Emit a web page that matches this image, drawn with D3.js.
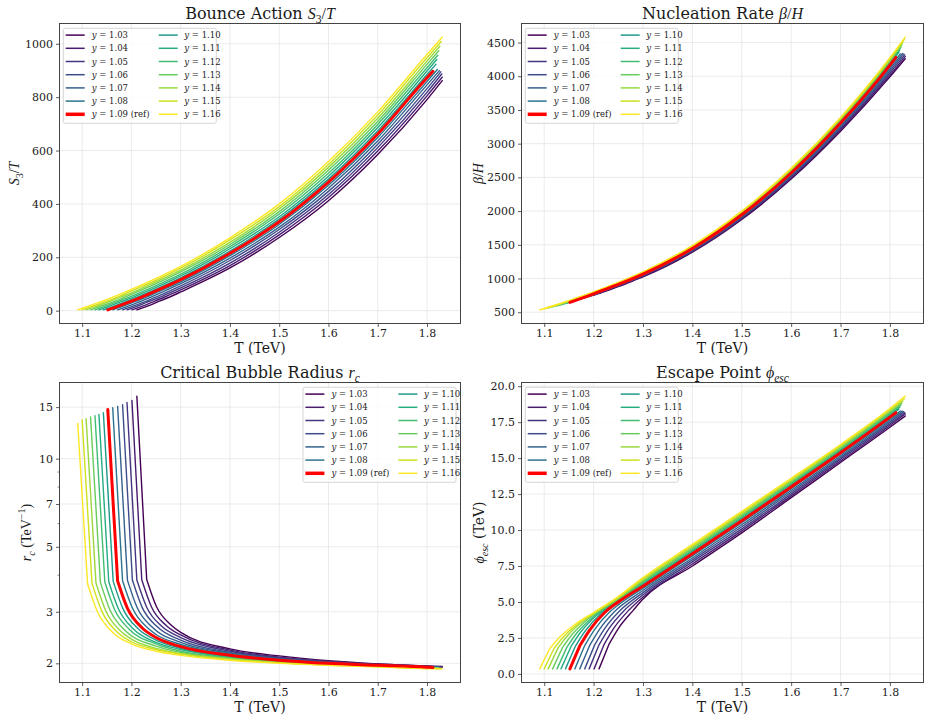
<!DOCTYPE html>
<html lang="en">
<head>
<meta charset="UTF-8">
<title>Bubble nucleation scan</title>
<script src="https://d3js.org/d3.v7.min.js"></script>
<style>
  body { margin: 0; background: #fff; }
  text { font-family: "DejaVu Serif", serif; fill: #1a1a1a; }
</style>
</head>
<body>
<script>
// y values of the scan, 1.09 is the reference curve
const yLabels = ["1.03", "1.04", "1.05", "1.06", "1.07", "1.08", "1.09",
                 "1.10", "1.11", "1.12", "1.13", "1.14", "1.15", "1.16"];
const refIndex = 6;

// temperatures (TeV) where each curve is sampled
const tSamples = [
  [1.211, 1.231, 1.251, 1.281, 1.3, 1.4, 1.5, 1.6, 1.7, 1.8, 1.831],
  [1.201, 1.221, 1.241, 1.271, 1.3, 1.4, 1.5, 1.6, 1.7, 1.8, 1.831],
  [1.191, 1.211, 1.231, 1.261, 1.3, 1.4, 1.5, 1.6, 1.7, 1.8, 1.830],
  [1.182, 1.202, 1.222, 1.252, 1.3, 1.4, 1.5, 1.6, 1.7, 1.8, 1.828],
  [1.172, 1.192, 1.212, 1.242, 1.3, 1.4, 1.5, 1.6, 1.7, 1.8, 1.825],
  [1.162, 1.182, 1.202, 1.232, 1.25, 1.3, 1.4, 1.5, 1.6, 1.7, 1.8, 1.821],
  [1.152, 1.172, 1.192, 1.222, 1.25, 1.3, 1.4, 1.5, 1.6, 1.7, 1.8, 1.812],
  [1.143, 1.163, 1.183, 1.213, 1.25, 1.3, 1.4, 1.5, 1.6, 1.7, 1.8, 1.818],
  [1.134, 1.154, 1.174, 1.204, 1.25, 1.3, 1.4, 1.5, 1.6, 1.7, 1.8, 1.820],
  [1.126, 1.146, 1.166, 1.196, 1.25, 1.3, 1.4, 1.5, 1.6, 1.7, 1.8, 1.822],
  [1.117, 1.137, 1.157, 1.187, 1.25, 1.3, 1.4, 1.5, 1.6, 1.7, 1.8, 1.824],
  [1.108, 1.128, 1.148, 1.178, 1.2, 1.25, 1.3, 1.4, 1.5, 1.6, 1.7, 1.8, 1.826],
  [1.100, 1.120, 1.140, 1.170, 1.2, 1.25, 1.3, 1.4, 1.5, 1.6, 1.7, 1.8, 1.829],
  [1.091, 1.111, 1.131, 1.161, 1.2, 1.25, 1.3, 1.4, 1.5, 1.6, 1.7, 1.8, 1.831]
];

// S3/T
const s3T = [
  [3, 16, 31, 54, 70, 160, 274, 412, 585, 791, 862],
  [3, 16, 31, 54, 78, 169, 284, 424, 598, 805, 875],
  [3, 16, 31, 53, 85, 178, 294, 435, 611, 818, 887],
  [3, 16, 30, 53, 93, 188, 304, 447, 624, 832, 895],
  [3, 16, 30, 53, 101, 197, 313, 459, 636, 846, 899],
  [3, 16, 30, 52, 67, 108, 206, 323, 470, 649, 859, 904],
  [3, 16, 30, 52, 74, 116, 215, 333, 482, 662, 873, 897],
  [3, 16, 30, 52, 81, 123, 223, 343, 493, 674, 885, 923],
  [3, 16, 30, 51, 87, 130, 232, 352, 504, 686, 898, 941],
  [3, 16, 30, 51, 94, 137, 240, 362, 515, 698, 910, 957],
  [3, 16, 29, 51, 101, 145, 248, 371, 526, 709, 923, 974],
  [3, 16, 29, 51, 67, 108, 152, 256, 381, 537, 721, 935, 991],
  [3, 16, 29, 50, 74, 114, 159, 265, 390, 548, 733, 948, 1009],
  [3, 16, 29, 50, 80, 121, 166, 273, 400, 559, 745, 960, 1025]
];

// beta/H
const betaH = [
  [776, 829, 882, 970, 1025, 1390, 1875, 2475, 3185, 3990, 4260],
  [754, 808, 861, 946, 1032, 1399, 1887, 2490, 3205, 4019, 4293],
  [732, 785, 839, 923, 1038, 1408, 1898, 2505, 3225, 4048, 4317],
  [713, 765, 820, 902, 1045, 1418, 1910, 2520, 3245, 4078, 4331],
  [691, 743, 797, 880, 1052, 1427, 1922, 2535, 3265, 4107, 4336],
  [669, 720, 774, 857, 907, 1058, 1436, 1933, 2550, 3285, 4136, 4332],
  [645, 698, 751, 834, 912, 1065, 1445, 1945, 2565, 3305, 4165, 4279],
  [627, 678, 731, 812, 917, 1070, 1451, 1953, 2575, 3317, 4181, 4353],
  [611, 660, 713, 792, 921, 1075, 1458, 1961, 2585, 3329, 4196, 4389],
  [596, 644, 695, 774, 926, 1080, 1464, 1969, 2595, 3341, 4212, 4425],
  [580, 627, 676, 756, 930, 1085, 1471, 1976, 2605, 3354, 4228, 4462],
  [563, 610, 657, 736, 793, 935, 1090, 1477, 1984, 2615, 3366, 4244, 4498],
  [549, 596, 643, 720, 798, 939, 1095, 1484, 1992, 2625, 3378, 4259, 4544],
  [535, 581, 628, 702, 802, 944, 1100, 1490, 2000, 2635, 3390, 4275, 4580]
];

// critical radius r_c (1/TeV)
const rc = [
  [16.35, 3.87, 3.12, 2.70, 2.55, 2.24, 2.12, 2.04, 1.99, 1.96, 1.95],
  [15.81, 3.86, 3.11, 2.69, 2.50, 2.22, 2.10, 2.03, 1.99, 1.955, 1.945],
  [15.56, 3.85, 3.11, 2.68, 2.45, 2.20, 2.09, 2.03, 1.98, 1.95, 1.94],
  [15.28, 3.85, 3.10, 2.67, 2.40, 2.18, 2.08, 2.02, 1.98, 1.95, 1.94],
  [15.08, 3.84, 3.09, 2.66, 2.36, 2.17, 2.07, 2.01, 1.97, 1.945, 1.94],
  [14.92, 3.83, 3.09, 2.65, 2.51, 2.32, 2.15, 2.06, 2.01, 1.97, 1.94, 1.94],
  [14.73, 3.82, 3.08, 2.64, 2.45, 2.28, 2.13, 2.05, 2.00, 1.97, 1.94, 1.935],
  [14.35, 3.81, 3.07, 2.63, 2.40, 2.25, 2.11, 2.04, 1.995, 1.96, 1.935, 1.93],
  [14.17, 3.80, 3.06, 2.62, 2.36, 2.23, 2.10, 2.035, 1.99, 1.96, 1.93, 1.93],
  [14.02, 3.79, 3.05, 2.61, 2.33, 2.20, 2.09, 2.03, 1.985, 1.96, 1.93, 1.93],
  [13.87, 3.78, 3.03, 2.59, 2.29, 2.18, 2.08, 2.02, 1.98, 1.955, 1.93, 1.92],
  [13.69, 3.76, 3.02, 2.58, 2.42, 2.25, 2.16, 2.07, 2.01, 1.98, 1.95, 1.925, 1.92],
  [13.55, 3.75, 3.01, 2.57, 2.37, 2.23, 2.15, 2.06, 2.01, 1.97, 1.95, 1.92, 1.92],
  [13.20, 3.74, 3.00, 2.56, 2.33, 2.20, 2.13, 2.05, 2.00, 1.97, 1.945, 1.92, 1.915]
];

// escape point phi_esc (TeV)
const phiEsc = [
  [0.35, 2.05, 3.20, 4.45, 5.20, 7.50, 9.80, 12.25, 14.70, 17.15, 17.93],
  [0.35, 2.03, 3.18, 4.42, 5.35, 7.64, 9.94, 12.38, 14.81, 17.27, 18.08],
  [0.35, 2.02, 3.15, 4.38, 5.50, 7.79, 10.08, 12.50, 14.93, 17.38, 18.16],
  [0.35, 2.00, 3.13, 4.35, 5.65, 7.93, 10.23, 12.63, 15.04, 17.50, 18.23],
  [0.35, 1.98, 3.10, 4.32, 5.80, 8.06, 10.37, 12.75, 15.15, 17.62, 18.27],
  [0.35, 1.97, 3.08, 4.28, 4.80, 5.95, 8.21, 10.51, 12.88, 15.27, 17.73, 18.28],
  [0.35, 1.95, 3.05, 4.25, 5.00, 6.10, 8.35, 10.65, 13.00, 15.38, 17.85, 18.16],
  [0.35, 1.92, 2.98, 4.13, 5.05, 6.19, 8.44, 10.74, 13.09, 15.46, 17.94, 18.41],
  [0.35, 1.89, 2.91, 4.01, 5.10, 6.27, 8.54, 10.84, 13.17, 15.54, 18.02, 18.54],
  [0.35, 1.86, 2.84, 3.89, 5.16, 6.36, 8.63, 10.93, 13.26, 15.62, 18.11, 18.68],
  [0.35, 1.84, 2.76, 3.76, 5.21, 6.44, 8.72, 11.02, 13.34, 15.71, 18.19, 18.81],
  [0.35, 1.81, 2.69, 3.64, 4.17, 5.27, 6.53, 8.81, 11.11, 13.43, 15.79, 18.28, 18.96],
  [0.35, 1.78, 2.62, 3.52, 4.21, 5.32, 6.61, 8.91, 11.21, 13.51, 15.87, 18.36, 19.11],
  [0.35, 1.75, 2.55, 3.40, 4.27, 5.38, 6.70, 9.00, 11.30, 13.60, 15.95, 18.45, 19.31]
];

const xTicks = [1.1, 1.2, 1.3, 1.4, 1.5, 1.6, 1.7, 1.8];
const s3Ticks = [0, 200, 400, 600, 800, 1000];
const betaTicks = [500, 1000, 1500, 2000, 2500, 3000, 3500, 4000, 4500];
const rcTicks = [2, 3, 5, 7, 10, 15];
const rcMinorTicks = [4, 6, 8, 9];
const phiTicks = [0, 2.5, 5, 7.5, 10, 12.5, 15, 17.5, 20];

const W = 930, H = 722;
const mathFont = '"Liberation Serif", "DejaVu Serif", serif';
const svg = d3.select('body').append('svg').attr('width', W).attr('height', H);

const color = i => i === refIndex ? '#ff0000' : d3.interpolateViridis(i / 13);

// matplotlib style 5% margins
const tLo = d3.min(tSamples, a => a[0]), tHi = d3.max(tSamples, a => a[a.length - 1]);
const xDomain = [tLo - (tHi - tLo) * 0.05, tHi + (tHi - tLo) * 0.05];

// text made of plain / italic / sub / sup pieces
function richText(sel, parts, size) {
  let shift = 0;
  parts.forEach(p => {
    const t = sel.append('tspan').text(p.t);
    if (p.m || p.it) t.attr('font-family', mathFont);
    if (p.it) t.attr('font-style', 'italic');
    let target = 0;
    if (p.sub) { target = size * 0.28; t.attr('font-size', size * 0.72); }
    if (p.sup) { target = -size * 0.4; t.attr('font-size', size * 0.72); }
    if (target !== shift) { t.attr('dy', target - shift); shift = target; }
  });
}

const panels = [
  { values: s3T, x: 59.5, y: 23.5, w: 401, h: 300, ticks: s3Ticks, fmt: d3.format('d'),
    legend: 'left', ylabX: 19,
    title: [{ t: 'Bounce Action ' }, { t: 'S', it: 1 }, { t: '3', m: 1, sub: 1 }, { t: '/', m: 1 }, { t: 'T', it: 1 }],
    ylab: [{ t: 'S', it: 1 }, { t: '3', m: 1, sub: 1 }, { t: '/', m: 1 }, { t: 'T', it: 1 }] },
  { values: betaH, x: 521.5, y: 23.5, w: 402, h: 300, ticks: betaTicks, fmt: d3.format('d'),
    legend: 'left', ylabX: 483,
    title: [{ t: 'Nucleation Rate ' }, { t: 'β', it: 1 }, { t: '/', m: 1 }, { t: 'H', it: 1 }],
    ylab: [{ t: 'β', it: 1 }, { t: '/', m: 1 }, { t: 'H', it: 1 }] },
  { values: rc, x: 59.5, y: 382.5, w: 401, h: 300, ticks: rcTicks, minor: rcMinorTicks, log: true,
    fmt: d3.format('d'), sharpStart: true, legend: 'right', ylabX: 31,
    title: [{ t: 'Critical Bubble Radius ' }, { t: 'r', it: 1 }, { t: 'c', it: 1, sub: 1 }],
    ylab: [{ t: 'r', it: 1 }, { t: 'c', it: 1, sub: 1 }, { t: ' (TeV', m: 1 }, { t: '−1', m: 1, sup: 1 }, { t: ')', m: 1 }] },
  { values: phiEsc, x: 521.5, y: 382.5, w: 402, h: 300, ticks: phiTicks, fmt: d3.format('.1f'),
    sharpStart: true, legend: 'left', ylabX: 484,
    title: [{ t: 'Escape Point ' }, { t: 'ϕ', it: 1 }, { t: 'esc', it: 1, sub: 1 }],
    ylab: [{ t: 'ϕ', it: 1 }, { t: 'esc', it: 1, sub: 1 }, { t: ' (TeV)' }] }
];

panels.forEach(p => {
  const g = svg.append('g');
  const x = d3.scaleLinear().domain(xDomain).range([p.x, p.x + p.w]);
  const all = p.values.flat();
  let y;
  if (p.log) {
    const [lo, hi] = d3.extent(all).map(Math.log10);
    const m = (hi - lo) * 0.05;
    y = d3.scaleLog().domain([10 ** (lo - m), 10 ** (hi + m)]).range([p.y + p.h, p.y]);
  } else {
    const [lo, hi] = d3.extent(all);
    const m = (hi - lo) * 0.05;
    y = d3.scaleLinear().domain([lo - m, hi + m]).range([p.y + p.h, p.y]);
  }

  // grid
  g.append('g').selectAll('line').data(xTicks).join('line')
    .attr('x1', d => x(d)).attr('x2', d => x(d))
    .attr('y1', p.y).attr('y2', p.y + p.h)
    .attr('stroke', '#e6e6e6').attr('stroke-width', 0.8);
  g.append('g').selectAll('line').data(p.ticks).join('line')
    .attr('x1', p.x).attr('x2', p.x + p.w)
    .attr('y1', d => y(d)).attr('y2', d => y(d))
    .attr('stroke', '#e6e6e6').attr('stroke-width', 0.8);

  // curves: the first step after the start is a straight drop/rise (kink),
  // the rest is smooth
  const lin = d3.line().x(d => x(d[0])).y(d => y(d[1]));
  const smooth = d3.line().x(d => x(d[0])).y(d => y(d[1])).curve(d3.curveMonotoneX);
  const pathOf = pts => p.sharpStart ? lin(pts.slice(0, 2)) + smooth(pts.slice(1)) : smooth(pts);
  const order = d3.range(yLabels.length).filter(i => i !== refIndex).concat([refIndex]);
  g.append('g').selectAll('path').data(order).join('path')
    .attr('d', i => pathOf(tSamples[i].map((t, k) => [t, p.values[i][k]])))
    .attr('fill', 'none')
    .attr('stroke', i => color(i))
    .attr('stroke-width', i => i === refIndex ? 3 : 1.4)
    .attr('stroke-linejoin', 'round')
    .attr('stroke-linecap', 'round');

  // frame
  g.append('rect').attr('x', p.x).attr('y', p.y).attr('width', p.w).attr('height', p.h)
    .attr('fill', 'none').attr('stroke', '#444').attr('stroke-width', 1);

  // axes
  const ax = g.append('g').attr('transform', `translate(0,${p.y + p.h})`)
    .call(d3.axisBottom(x).tickValues(xTicks).tickSize(3.5).tickPadding(2.5).tickFormat(d3.format('.1f')));
  const ay = g.append('g').attr('transform', `translate(${p.x},0)`)
    .call(d3.axisLeft(y).tickValues(p.ticks).tickSize(3.5).tickPadding(3).tickFormat(p.fmt));
  [ax, ay].forEach(a => {
    a.select('.domain').remove();
    a.selectAll('line').attr('stroke', '#333').attr('stroke-width', 0.8);
    a.selectAll('text').attr('font-family', '"DejaVu Serif", serif').attr('font-size', 11).attr('fill', '#222');
  });
  if (p.minor) {
    g.append('g').selectAll('line').data(p.minor).join('line')
      .attr('x1', p.x - 2).attr('x2', p.x)
      .attr('y1', d => y(d)).attr('y2', d => y(d))
      .attr('stroke', '#333').attr('stroke-width', 0.6);
  }

  // title and labels
  richText(g.append('text').attr('x', p.x + p.w / 2).attr('y', p.y - 4.5)
    .attr('text-anchor', 'middle').attr('font-size', 16), p.title, 16);
  g.append('text').attr('x', p.x + p.w / 2).attr('y', p.y + p.h + 29)
    .attr('text-anchor', 'middle').attr('font-size', 14).text('T (TeV)');
  richText(g.append('text').attr('transform', `translate(${p.ylabX},${p.y + p.h / 2}) rotate(-90)`)
    .attr('text-anchor', 'middle').attr('font-size', 14), p.ylab, 14);

  // legend
  const lw = 153, lh = 95;
  const lx = p.legend === 'left' ? p.x + 3.8 : p.x + p.w - 4.5 - lw;
  const ly = p.y + 4.8;
  const lg = g.append('g');
  lg.append('rect').attr('x', lx).attr('y', ly).attr('width', lw).attr('height', lh)
    .attr('rx', 2).attr('fill', '#fff').attr('fill-opacity', 0.8)
    .attr('stroke', '#cccccc').attr('stroke-width', 0.8);
  yLabels.forEach((lab, i) => {
    const col = i < 7 ? 0 : 1, row = i % 7;
    const cy = ly + 6.8 + row * 13.2;
    const hx = lx + 2.4 + col * 93;
    lg.append('line').attr('x1', hx).attr('x2', hx + 19).attr('y1', cy).attr('y2', cy)
      .attr('stroke', color(i)).attr('stroke-width', i === refIndex ? 3.5 : 1.5);
    const t = lg.append('text').attr('x', lx + 28.4 + col * 92.6).attr('y', cy + 3)
      .attr('font-size', 8.5).attr('font-family', mathFont);
    t.append('tspan').attr('font-style', 'italic').text('y');
    t.append('tspan').text(' = ' + lab + (i === refIndex ? ' (ref)' : ''));
  });
});
</script>
</body>
</html>
